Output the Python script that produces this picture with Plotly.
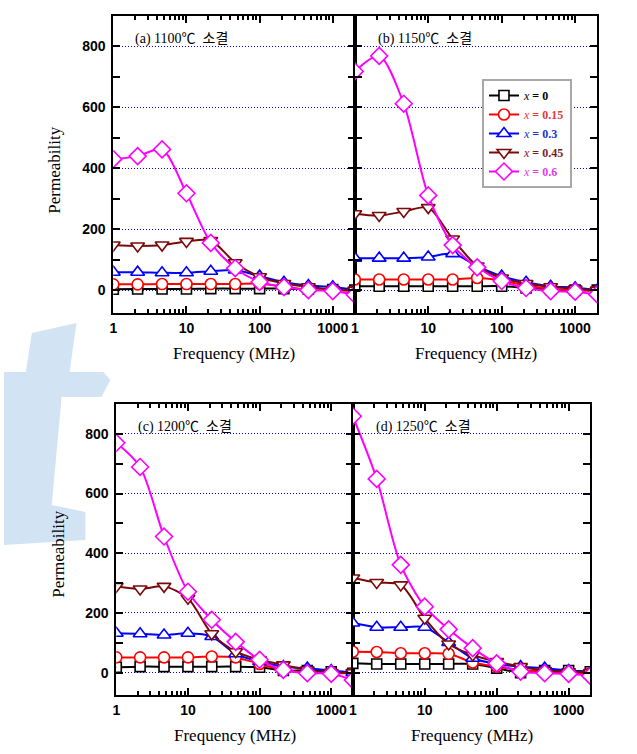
import plotly.graph_objects as go

# ---------------- data ----------------
freq = [1, 2.15, 4.64, 10, 21.5, 46.4, 100, 215, 464, 1000, 2000]
series_names = ["x = 0", "x = 0.15", "x = 0.3", "x = 0.45", "x = 0.6"]
panel_labels = ["(a) 1100\u2103  소결", "(b) 1150\u2103  소결", "(c) 1200\u2103  소결", "(d) 1250\u2103  소결"]
x_tick_vals = [1, 10, 100, 1000]
x_tick_text = ["1", "10", "100", "1000"]
y_tick_vals = [0, 200, 400, 600, 800]

a_x0 = [3, 4, 4, 4, 5, 5, 5, 5, 3, 2, 0]
a_x015 = [19, 19, 20, 20, 20, 20, 22, 11, 2, 0, -3]
a_x03 = [59, 59, 57, 57, 62, 66, 46, 26, 15, 11, 0]
a_x045 = [148, 145, 148, 160, 163, 90, 44, 22, 11, 2, 0]
a_x06 = [430, 440, 462, 318, 155, 72, 27, 10, 0, -3, -15]

b_x0 = [13, 13, 13, 13, 13, 13, 13, 7, 2, 0, 0]
b_x015 = [35, 35, 35, 35, 35, 40, 32, 15, 4, 0, -3]
b_x03 = [105, 105, 105, 109, 120, 79, 46, 26, 13, 8, 0]
b_x045 = [251, 245, 258, 271, 168, 79, 40, 22, 11, 4, 0]
b_x06 = [718, 769, 612, 311, 148, 75, 30, 7, -3, -5, -14]

c_x0 = [18, 20, 20, 20, 20, 20, 18, 7, 7, 3, -2]
c_x015 = [51, 51, 51, 51, 54, 51, 29, 9, 0, -2, -2]
c_x03 = [132, 130, 126, 132, 121, 63, 37, 20, 15, 7, 0]
c_x045 = [289, 280, 289, 249, 130, 70, 43, 26, 9, 0, 0]
c_x06 = [770, 689, 456, 271, 177, 103, 43, 9, -2, -4, -25]

d_x0 = [31, 29, 29, 29, 29, 29, 15, 0, 7, 7, 3]
d_x015 = [70, 69, 65, 65, 63, 34, 20, 9, 3, 0, -2]
d_x03 = [166, 152, 152, 152, 101, 48, 29, 20, 15, 7, 0]
d_x045 = [317, 302, 294, 182, 96, 59, 37, 20, 7, 3, 0]
d_x06 = [859, 649, 361, 221, 145, 82, 31, 3, -2, -4, -11]

panels = [
    [a_x0, a_x015, a_x03, a_x045, a_x06],
    [b_x0, b_x015, b_x03, b_x045, b_x06],
    [c_x0, c_x015, c_x03, c_x045, c_x06],
    [d_x0, d_x015, d_x03, d_x045, d_x06],
]

# ---------------- style ----------------
W, H = 637, 754
line_colors = ["#000000", "#ff0000", "#0000ff", "#7a0a0a", "#ff00ff"]
legend_text_colors = ["#000000", "#e03a3a", "#2233cc", "#7a1a1a", "#e040e0"]
symbols = ["square", "circle", "triangle-up", "triangle-down", "diamond"]
msizes = [10, 11, 12, 12, 13]
SERIF = "Liberation Serif, Times New Roman, serif"

# pixel boxes: (left, right, top, bottom)
boxes = [(110, 353, 16, 313), (353, 597, 16, 313), (113, 351, 404, 695), (351, 590, 404, 695)]

def px_x(v):
    return v / W

def px_y(v):
    return 1 - v / H

fig = go.Figure()

for p, data in enumerate(panels):
    ax = "" if p == 0 else str(p + 1)
    for i, ys in enumerate(data):
        name = ('<span style="color:%s"><i>x</i><b> = %s</b></span>'
                % (legend_text_colors[i], series_names[i].split("= ")[1]))
        fig.add_trace(go.Scatter(
            x=freq, y=ys, mode="lines+markers",
            xaxis="x" + ax, yaxis="y" + ax,
            line=dict(color=line_colors[i], width=2, shape="spline", smoothing=0.8),
            marker=dict(symbol=symbols[i], size=msizes[i], color="white",
                        line=dict(width=1.6, color=line_colors[i])),
            name=name, legendgroup=str(i), showlegend=(p == 1),
        ))

layout = dict(
    width=W, height=H,
    margin=dict(l=0, r=0, t=0, b=0),
    paper_bgcolor="white", plot_bgcolor="rgba(0,0,0,0)",
    showlegend=True,
    legend=dict(x=px_x(481), y=px_y(79), xanchor="left", yanchor="top",
                bgcolor="white", bordercolor="#a8a8a8", borderwidth=2,
                font=dict(family=SERIF, size=12, color="black"),
                tracegroupgap=0, itemwidth=30),
)

for p, (l, r, t, b) in enumerate(boxes):
    ax = "" if p == 0 else str(p + 1)
    layout["xaxis" + ax] = dict(
        domain=[px_x(l), px_x(r)], anchor="y" + ax, type="log",
        range=[0, 3.30103], tickvals=x_tick_vals, ticktext=x_tick_text,
        ticks="inside", ticklen=7, tickwidth=1.5, tickcolor="black",
        minor=dict(tickvals=[2, 3, 4, 5, 6, 7, 8, 9, 20, 30, 40, 50, 60, 70, 80, 90,
                             200, 300, 400, 500, 600, 700, 800, 900, 2000],
                   ticks="inside", ticklen=4, tickcolor="black", showgrid=False),
        showline=True, linecolor="black", linewidth=2, mirror="ticks",
        showgrid=False, zeroline=False,
        tickfont=dict(family="Liberation Sans", size=14, color="black", weight="bold"),
        ticklabelstandoff=1,
    )
    layout["yaxis" + ax] = dict(
        domain=[px_y(b), px_y(t)], anchor="x" + ax,
        range=[-75, 900], tickvals=y_tick_vals,
        ticks="inside", ticklen=7, tickwidth=1.5, tickcolor="black",
        minor=dict(dtick=100, tick0=0, ticks="inside", ticklen=7, tickcolor="black", showgrid=False),
        showline=True, linecolor="black", linewidth=2, mirror="ticks",
        showgrid=True, gridcolor="#0000ff", griddash="1px,2px", gridwidth=1,
        zeroline=False,
        showticklabels=(p in (0, 2)),
        tickfont=dict(family="Liberation Sans", size=14, color="black", weight="bold"),
        ticklabelstandoff=3,
    )

fig.update_layout(**layout)

annotations = []
title_font = dict(family=SERIF, size=17, color="black")
for p, (l, r, t, b) in enumerate(boxes):
    annotations.append(dict(
        text="Frequency (MHz)", x=px_x((l + r) / 2), y=px_y(b + 40),
        xref="paper", yref="paper", showarrow=False, font=title_font,
        xanchor="center", yanchor="middle"))
    annotations.append(dict(
        text=panel_labels[p], x=px_x(l + (20 if p in (0, 2) else 21)), y=px_y(t + 23),
        xref="paper", yref="paper", showarrow=False,
        font=dict(family=SERIF + ", Noto Sans CJK KR", size=14, color="black"),
        xanchor="left", yanchor="middle"))
for xc, yc in ((51, 170), (54, 554)):
    annotations.append(dict(
        text="Permeability", x=px_x(xc), y=px_y(yc), xref="paper", yref="paper",
        showarrow=False, font=title_font, textangle=-90,
        xanchor="center", yanchor="middle"))
fig.update_layout(annotations=annotations)

# light-blue watermark "t" shape (background decoration)
pts = [(28, 333), (73, 323), (66, 372), (100, 372), (107, 380), (98, 397), (58, 397),
       (48, 505), (82, 512), (82, 540), (0, 545), (0, 372), (22, 372)]
path = "M " + " L ".join("%.4f,%.4f" % (px_x(x), px_y(y)) for x, y in pts) + " Z"
fig.add_shape(type="path", path=path, xref="paper", yref="paper",
              fillcolor="#d2e4f4", line=dict(width=0), layer="below")

fig.write_html("out.html", config={"displayModeBar": False},
               post_script="document.body.style.margin='0';")
